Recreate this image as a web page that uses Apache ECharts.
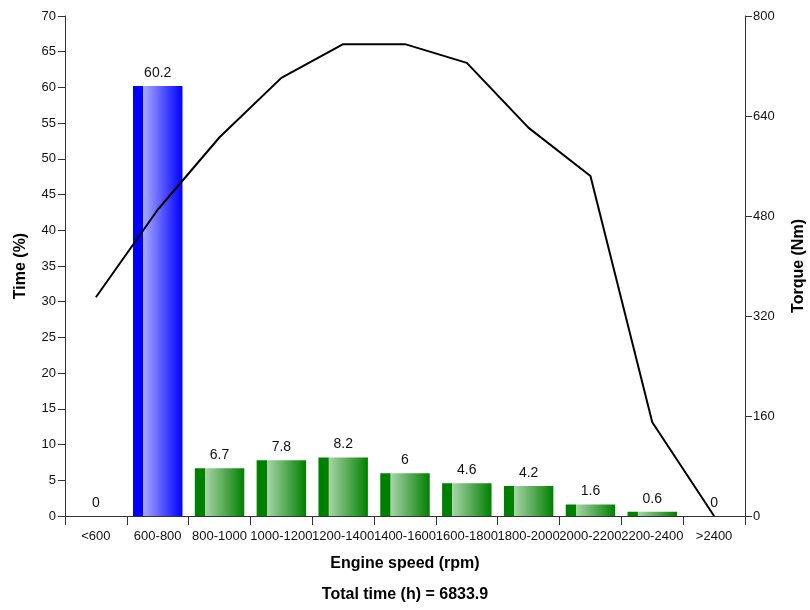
<!DOCTYPE html>
<html><head><meta charset="utf-8">
<script src="https://cdn.jsdelivr.net/npm/echarts@6/dist/echarts.min.js"></script>
<style>html,body{margin:0;padding:0;background:#fff}#c{width:810px;height:610px}</style>
</head><body><div id="c"></div>
<script>
var categories = ['<600','600-800','800-1000','1000-1200','1200-1400','1400-1600','1600-1800','1800-2000','2000-2200','2200-2400','>2400'];
var timePct = [0, 60.2, 6.7, 7.8, 8.2, 6, 4.6, 4.2, 1.6, 0.6, 0];
var torque = [350, 490, 606, 701, 755, 755, 725, 621, 544, 150, 0];
var highlightIndex = 1;

function grad(dark, light){
  return new echarts.graphic.LinearGradient(0,0,1,0,[
    {offset:0,color:dark},{offset:0.2,color:dark},{offset:0.21,color:light},{offset:1,color:dark}
  ]);
}
var font = 'Liberation Sans, Arial, sans-serif';
var chart = echarts.init(document.getElementById('c'));
chart.setOption({
  animation:false,
  textStyle:{fontFamily:font},
  grid:{left:65,right:65,top:16,bottom:94,containLabel:false,outerBoundsMode:'none'},
  title:{text:'Total time (h) = 6833.9',left:'center',bottom:7,padding:0,
    textStyle:{fontFamily:font,fontSize:16,fontWeight:'bold',color:'#000'}},
  xAxis:{type:'category',data:categories,
    name:'Engine speed (rpm)',nameLocation:'middle',nameGap:40,
    nameTextStyle:{fontFamily:font,fontSize:16,fontWeight:'bold',color:'#000'},
    axisLine:{lineStyle:{color:'#333',width:1}},
    axisTick:{show:true,length:9,lineStyle:{color:'#333'}},
    axisLabel:{interval:0,fontSize:13,color:'#111',margin:14,fontFamily:font}},
  yAxis:[
    {type:'value',min:0,max:70,interval:5,
     name:'Time (%)',nameLocation:'middle',nameGap:36,nameRotate:90,
     nameTextStyle:{fontFamily:font,fontSize:16,fontWeight:'bold',color:'#000'},
     axisLine:{show:true,lineStyle:{color:'#333'}},
     axisTick:{show:true,length:7,lineStyle:{color:'#333'}},
     axisLabel:{fontSize:13,color:'#111',margin:9,fontFamily:font},
     splitLine:{show:false}},
    {type:'value',min:0,max:800,interval:160,position:'right',
     name:'Torque (Nm)',nameLocation:'middle',nameGap:46,nameRotate:90,
     nameTextStyle:{fontFamily:font,fontSize:16,fontWeight:'bold',color:'#000'},
     axisLine:{show:true,lineStyle:{color:'#333'}},
     axisTick:{show:true,length:7,lineStyle:{color:'#333'}},
     axisLabel:{fontSize:13,color:'#111',margin:8,fontFamily:font},
     splitLine:{show:false}}
  ],
  series:[
    {type:'bar',yAxisIndex:0,barWidth:'80%',
     data:timePct.map(function(v,i){
       return {value:v,itemStyle:{color:i===highlightIndex?grad('#0000ff','#a8a8ff'):grad('#008000','#a8d4a8')}};
     }),
     label:{show:true,position:'top',distance:6,fontSize:14,color:'#111',fontFamily:font}},
    {type:'line',yAxisIndex:1,data:torque,symbol:'none',
     lineStyle:{color:'#000',width:2},z:5}
  ]
});
</script></body></html>
